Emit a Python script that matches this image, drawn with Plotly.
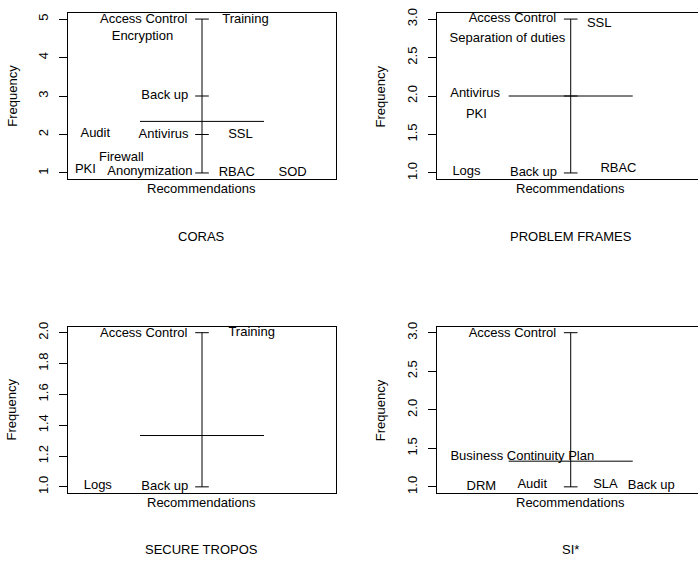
import plotly.graph_objects as go

W, H = 698, 561
FONT = "Liberation Sans, Arial, Helvetica, sans-serif"

# ---------------- data ----------------
panel_titles = ["CORAS", "PROBLEM FRAMES", "SECURE TROPOS", "SI*"]

coras_labels = ["Access Control", "Training", "Encryption", "Back up", "Audit", "Antivirus",
                "SSL", "Firewall", "PKI", "Anonymization", "RBAC", "SOD"]
coras_x = [-0.47, 0.35, -0.48, -0.30, -0.86, -0.31, 0.31, -0.65, -0.94, -0.42, 0.28, 0.73]
coras_y = [4.99, 4.97, 4.54, 3.0, 2.01, 2.0, 2.0, 1.39, 1.08, 1.02, 1.0, 1.0]
coras_levels = [1, 2, 3, 5]
coras_mean = 2.34

pf_labels = ["Access Control", "SSL", "Separation of duties", "Antivirus", "PKI",
             "Logs", "Back up", "RBAC"]
pf_x = [-0.47, 0.23, -0.51, -0.77, -0.76, -0.84, -0.30, 0.385]
pf_y = [3.0, 2.94, 2.74, 2.03, 1.76, 1.01, 1.0, 1.06]
pf_levels = [1, 2, 3]
pf_mean = 2.0

st_labels = ["Access Control", "Training", "Logs", "Back up"]
st_x = [-0.47, 0.40, -0.84, -0.30]
st_y = [1.99, 2.0, 1.01, 1.0]
st_levels = [1, 2]
st_mean = 1.333

si_labels = ["Access Control", "Business Continuity Plan", "DRM", "Audit", "SLA", "Back up"]
si_x = [-0.47, -0.39, -0.72, -0.31, 0.28, 0.65]
si_y = [2.99, 1.39, 1.0, 1.03, 1.03, 1.02]
si_levels = [1, 3]
si_mean = 1.333

coras_ticks = [1, 2, 3, 4, 5]
pf_ticks = [1.0, 1.5, 2.0, 2.5, 3.0]
st_ticks = [1.0, 1.2, 1.4, 1.6, 1.8, 2.0]
si_ticks = [1.0, 1.5, 2.0, 2.5, 3.0]

# ---------------- layout geometry (pixels) ----------------
PXU = 124.07  # pixels per x unit
panels = [
    dict(labels=coras_labels, x=coras_x, y=coras_y, levels=coras_levels, mean=coras_mean,
         ticks=coras_ticks, fmt="d", cx=202.0, top=8.0, bottom=176.0, left=True),
    dict(labels=pf_labels, x=pf_x, y=pf_y, levels=pf_levels, mean=pf_mean,
         ticks=pf_ticks, fmt=".1f", cx=570.7, top=8.0, bottom=176.0, left=False),
    dict(labels=st_labels, x=st_x, y=st_y, levels=st_levels, mean=st_mean,
         ticks=st_ticks, fmt=".1f", cx=202.0, top=325.0, bottom=493.3, left=True),
    dict(labels=si_labels, x=si_x, y=si_y, levels=si_levels, mean=si_mean,
         ticks=si_ticks, fmt=".1f", cx=570.7, top=325.0, bottom=493.3, left=False),
]

fig = go.Figure()
layout = dict(width=W, height=H, margin=dict(l=0, r=0, t=0, b=0), autosize=False,
              paper_bgcolor="white", plot_bgcolor="white", showlegend=False,
              font=dict(family=FONT, size=13, color="black"), annotations=[])

for i, p in enumerate(panels):
    n = "" if i == 0 else str(i + 1)
    xa, ya = "x" + n, "y" + n
    lo, hi = min(p["ticks"]), max(p["ticks"])
    ext = (hi - lo) * 0.04
    yr = [lo - ext, hi + ext]
    xl_px = p["cx"] - 1.08 * PXU
    xr_px = min(p["cx"] + 1.08 * PXU, W)
    xr = [-1.08, (xr_px - p["cx"]) / PXU]

    # vertical range line with ticks at each level, and centre line
    lx, ly = [0, 0, None], [min(p["levels"]), max(p["levels"]), None]
    for v in p["levels"]:
        lx += [-0.055, 0.055, None]
        ly += [v, v, None]
    lx += [-0.5, 0.5]
    ly += [p["mean"], p["mean"]]
    fig.add_trace(go.Scatter(x=lx, y=ly, mode="lines", line=dict(color="black", width=1),
                             xaxis=xa, yaxis=ya, hoverinfo="skip", cliponaxis=False))
    fig.add_trace(go.Scatter(x=p["x"], y=p["y"], text=p["labels"], mode="text",
                             textposition="middle center",
                             textfont=dict(family=FONT, size=13, color="black"),
                             xaxis=xa, yaxis=ya, hoverinfo="skip", cliponaxis=False))

    layout["xaxis" + n] = dict(domain=[xl_px / W, xr_px / W], range=xr, anchor=ya,
                               showticklabels=False, ticks="", showgrid=False, zeroline=False,
                               showline=True, mirror=True, linecolor="black", linewidth=1,
                               fixedrange=True)
    layout["yaxis" + n] = dict(domain=[1 - p["bottom"] / H, 1 - p["top"] / H], range=yr,
                               anchor=xa, tickvals=p["ticks"], tickformat=p["fmt"],
                               ticks="outside", ticklen=8, tickcolor="black", tickwidth=1,
                               tickangle=-90, ticklabelstandoff=6,
                               tickfont=dict(family=FONT, size=13, color="black"),
                               showgrid=False, zeroline=False, showline=True,
                               mirror=p["left"], linecolor="black", linewidth=1,
                               fixedrange=True)

    midy = (p["top"] + p["bottom"]) / 2
    ann = layout["annotations"]
    ann.append(dict(text="Frequency", x=(p["cx"] - 190.3) / W, y=1 - midy / H,
                    xref="paper", yref="paper", showarrow=False, textangle=-90,
                    xanchor="center", yanchor="middle", font=dict(size=13)))
    ann.append(dict(text="Recommendations", x=p["cx"] / W, y=1 - (p["bottom"] + 9.3) / H,
                    xref="paper", yref="paper", showarrow=False,
                    xanchor="center", yanchor="middle", font=dict(size=13)))
    ann.append(dict(text=panel_titles[i], x=p["cx"] / W, y=1 - (p["bottom"] + 57.5) / H,
                    xref="paper", yref="paper", showarrow=False,
                    xanchor="center", yanchor="middle", font=dict(size=13)))

fig.update_layout(**layout)
fig.write_html("out.html", config={"displayModeBar": False},
               post_script="document.body.style.margin='0px';document.body.style.overflow='hidden';")
